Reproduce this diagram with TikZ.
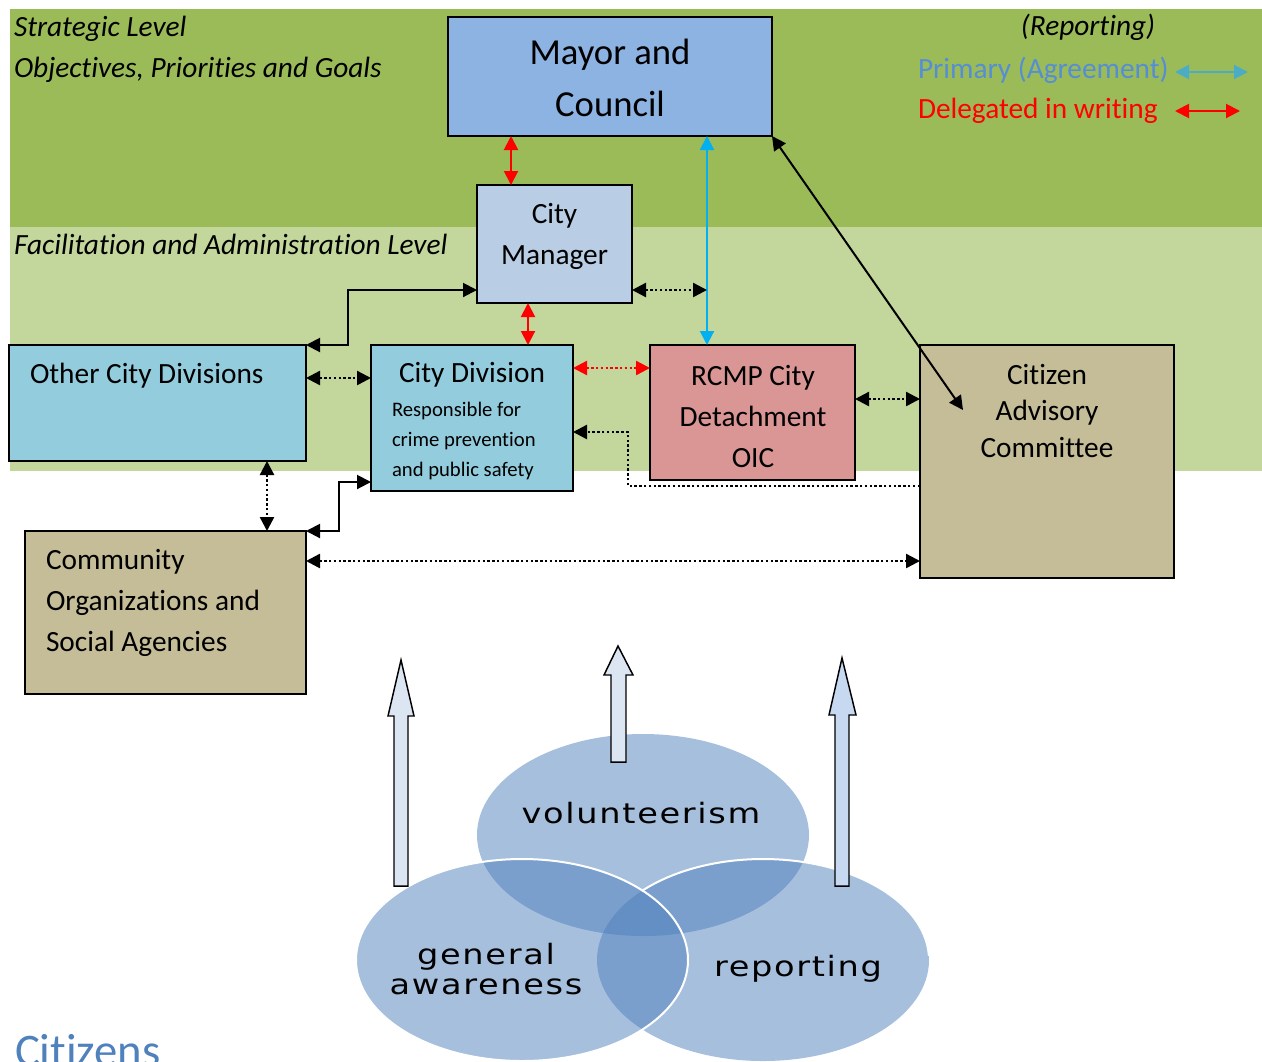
\documentclass[tikz,border=0pt]{standalone}
\usepackage{fontspec}
\setmainfont{Carlito}[Ligatures=NoCommon, RawFeature=-calt]
\newfontfamily\vennfont[LetterSpace=5]{DejaVu Sans}
\usetikzlibrary{arrows.meta}
\definecolor{darkgreen}{HTML}{9BBB59}
\definecolor{lightgreen}{HTML}{C3D69B}
\definecolor{mayorblue}{HTML}{8DB3E2}
\definecolor{mgrblue}{HTML}{B9CDE5}
\definecolor{divblue}{HTML}{93CDDD}
\definecolor{rcmppink}{HTML}{D99694}
\definecolor{tanbox}{HTML}{C4BD97}
\definecolor{cyanline}{HTML}{00B0F0}
\definecolor{legcyan}{HTML}{4BACC6}
\definecolor{primtext}{HTML}{558ED5}
\definecolor{vennblue}{HTML}{4F81BD}
\definecolor{arrowfill}{HTML}{DCE6F2}
\definecolor{arrowfilltwo}{HTML}{C6D9F1}
\definecolor{citizenscol}{HTML}{4F81BD}
\newcommand\widetext[1]{\scalebox{1.2}[1]{#1}}
\tikzset{
  box/.style={draw=black, line width=1.4pt, inner sep=0pt, outer sep=0pt},
  txt/.style={inner sep=0pt, outer sep=0pt},
  big/.style={font=\fontsize{22}{30.75}\selectfont},
  conn/.style={line width=1.5pt, {Triangle[length=10.5pt,width=10.5pt]}-{Triangle[length=10.5pt,width=10.5pt]}},
  dotconn/.style={conn, line width=1.8pt, dash pattern=on 1.8pt off 1.8pt},
  oneconn/.style={line width=1.8pt, dash pattern=on 1.8pt off 1.8pt, -{Triangle[length=10.5pt,width=10.5pt]}},
  venn/.style={fill=vennblue, fill opacity=0.5},
  blockarrow/.style={draw=black, line width=1.1pt, line join=miter},
  venntxt/.style={inner sep=0pt, font=\vennfont\fontsize{21}{22.5}\selectfont, align=center}
}
\begin{document}
\begin{tikzpicture}[x=0.75pt,y=-0.75pt]
\useasboundingbox (0,0) rectangle (1262,1061);
\clip (0,0) rectangle (1262,1061);
\fill[white] (0,0) rectangle (1262,1061);
\fill[darkgreen] (10,9) rectangle (1262,227);
\fill[lightgreen] (10,227) rectangle (1262,471);

% level labels
\node[txt, big, anchor=base west] (strat) at (14,36) {\itshape Strategic Level};
\node[txt, big, anchor=base west] (obj) at (14,77) {\itshape Objectives, Priorities and Goals};
\node[txt, big, anchor=base west] (facil) at (14,254) {\itshape Facilitation and Administration Level};

% legend
\node[txt, big, anchor=base] (rep) at (1088,35) {\itshape (Reporting)};
\node[txt, big, anchor=base west, text=primtext] (prim) at (918,78) {Primary (Agreement)};
\node[txt, big, anchor=base west, text=red] (deleg) at (918,118) {Delegated in writing};
\coordinate (lc1) at (1175,72);
\coordinate (lc2) at (1248,72);
\coordinate (lr1) at (1175,111);
\coordinate (lr2) at (1240,111);
\draw[conn, legcyan] (lc1) -- (lc2);
\draw[conn, red] (lr1) -- (lr2);

% boxes
\node[box, fill=mayorblue, minimum width=243pt, minimum height=89.25pt] (mayor) at (610,76.5) {};
\node[txt, align=center, font=\fontsize{27.5}{39}\selectfont] (mayorT) at (610,78) {Mayor and\\Council};

\node[box, fill=mgrblue, minimum width=116.25pt, minimum height=88.5pt] (manager) at (554.5,244) {};
\node[txt, big, align=center] (managerT) at (554.5,236) {City\\Manager};

\node[box, fill=divblue, minimum width=222.75pt, minimum height=87pt] (other) at (157.5,403) {};
\node[txt, big, anchor=west] (otherT) at (30,376) {Other City Divisions};

\node[box, fill=divblue, minimum width=151.5pt, minimum height=109.5pt] (citydiv) at (472,418) {};
\node[txt, big] (citydivT) at (472,375) {City Division};
\node[txt, anchor=west, align=left, font=\fontsize{15.5}{22.5}\selectfont] (citydivS) at (392,441) {Responsible for\\crime prevention\\and public safety};

\node[box, fill=rcmppink, minimum width=153.75pt, minimum height=101.25pt] (rcmp) at (752.5,412.5) {};
\node[txt, big, align=center] (rcmpT) at (753,416) {RCMP City\\Detachment\\OIC};

\node[box, fill=tanbox, minimum width=190.5pt, minimum height=174.75pt] (cac) at (1047,461.5) {};
\node[txt, align=center, font=\fontsize{22}{27.4}\selectfont] (cacT) at (1047,411) {Citizen\\Advisory\\Committee};

\node[box, fill=tanbox, minimum width=210.75pt, minimum height=122.25pt] (comm) at (165.5,612.5) {};
\node[txt, big, anchor=west, align=left] (commT) at (46,603) {Community\\Organizations and\\Social Agencies};

% connectors
\coordinate (cyanpt) at (707,290);
\coordinate (diagend) at (963,410);
\draw[conn, red] (mayor.south -| 511,0) -- (manager.north -| 511,0);
\draw[conn, cyanline] (mayor.south -| 707,0) -- (rcmp.north -| 707,0);
\draw[conn, black] (mayor.south east) -- (diagend);
\draw[dotconn] (manager.east |- 0,290) -- (cyanpt);
\draw[conn] (manager.west |- 0,290) -- (348,290) -- (348,345) -- (other.north east);
\draw[conn, red] (manager.south -| 528,0) -- (citydiv.north -| 528,0);
\draw[dotconn] (other.east |- 0,378) -- (citydiv.west |- 0,378);
\draw[dotconn, red] (citydiv.east |- 0,368) -- (rcmp.west |- 0,368);
\draw[dotconn] (rcmp.east |- 0,399) -- (cac.west |- 0,399);
\draw[oneconn] (cac.west |- 0,486) -- (628,486) -- (628,432) -- (citydiv.east |- 0,432);
\draw[dotconn] (other.south -| 267,0) -- (comm.north -| 267,0);
\draw[conn] (citydiv.west |- 0,482) -- (339,482) -- (339,531) -- (comm.north east);
\draw[dotconn] (comm.east |- 0,561) -- (cac.west |- 0,561);

% venn
\fill[venn] (643,835) ellipse [x radius=124.5pt, y radius=75.75pt];
\fill[venn] (522,960) ellipse [x radius=124.5pt, y radius=75.75pt];
\fill[venn] (763,960) ellipse [x radius=124.5pt, y radius=75.75pt];
\draw[white, line width=1.5pt] (522,960) ellipse [x radius=124.5pt, y radius=75.75pt];
\begin{scope}
\clip (642,700) rectangle (1000,955);
\draw[white, line width=1.5pt] (763,960) ellipse [x radius=124.5pt, y radius=75.75pt];
\end{scope}
\node[venntxt] (vol) at (641,813) {\widetext{volunteerism}};
\node[venntxt] (gen) at (486,969) {\widetext{general}\\\widetext{awareness}};
\node[venntxt] (repo) at (798,969) {\widetext{reporting}};

% block arrows
\draw[blockarrow, fill=arrowfill] (394,886) -- (394,716) -- (388,716) -- (401,660) -- (414,716) -- (408,716) -- (408,886) -- cycle;
\draw[blockarrow, fill=arrowfill] (611,762) -- (611,675) -- (604,675) -- (618,646) -- (633,675) -- (626,675) -- (626,762) -- cycle;
\draw[blockarrow, fill=arrowfilltwo] (835,886) -- (835,715) -- (829,715) -- (842,658) -- (856,715) -- (849,715) -- (849,886) -- cycle;

\node[txt, anchor=base west, text=citizenscol, font=\fontsize{35}{40}\selectfont] (cit) at (15,1066) {Citizens};
\end{tikzpicture}
\end{document}
